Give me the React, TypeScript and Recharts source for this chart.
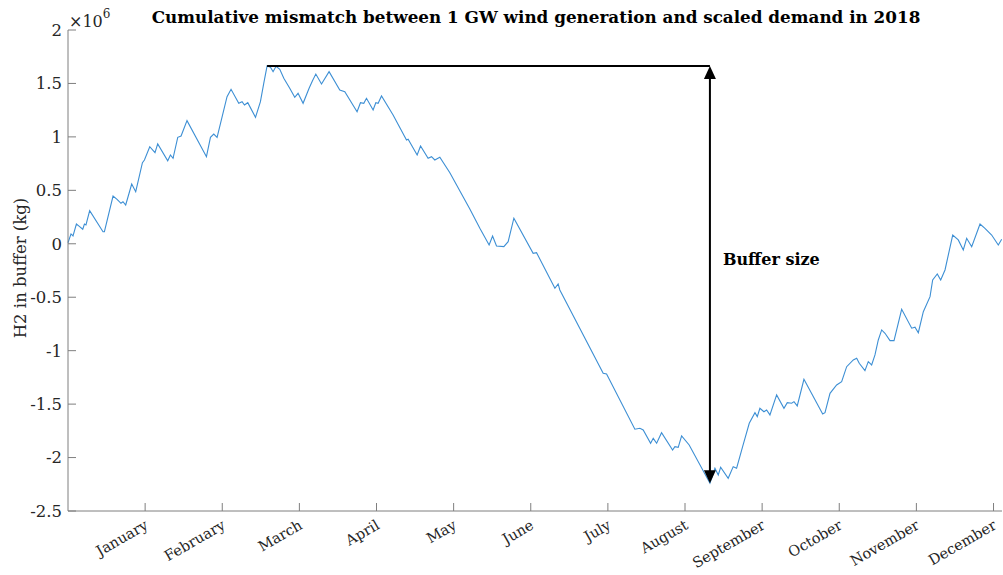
import { LineChart, Line, XAxis, YAxis, ReferenceLine } from 'recharts';

// month axis: tick k sits at the end of month k
const MONTHS = [
  'January', 'February', 'March', 'April', 'May', 'June',
  'July', 'August', 'September', 'October', 'November', 'December',
];
const monthTicks = [1, 2, 3, 4, 5, 6, 7, 8, 9, 10, 11, 12];
const yTicks = [-2.5, -2, -1.5, -1, -0.5, 0, 0.5, 1, 1.5, 2];

// time of year, in months
const monthPos = [
  0, 0.039, 0.065, 0.109, 0.139, 0.191, 0.213, 0.233, 0.281, 0.454,
  0.472, 0.584, 0.636, 0.687, 0.713, 0.748, 0.826, 0.878, 0.965, 0.991,
  1.06, 1.128, 1.163, 1.293, 1.328, 1.362, 1.423, 1.466, 1.543, 1.795,
  1.847, 1.89, 1.933, 2.062, 2.114, 2.214, 2.257, 2.288, 2.331, 2.431,
  2.495, 2.538, 2.581, 2.625, 2.659, 2.698, 2.746, 2.798, 2.875, 2.94,
  2.983, 3.048, 3.126, 3.17, 3.213, 3.287, 3.385, 3.524, 3.589, 3.748,
  3.792, 3.835, 3.87, 3.956, 3.991, 4.021, 4.065, 4.215, 4.389, 4.41,
  4.527, 4.571, 4.669, 4.713, 4.756, 4.821, 4.951, 5.21, 5.34, 5.46,
  5.505, 5.556, 5.651, 5.707, 5.781, 6.031, 6.075, 6.313, 6.355, 6.377,
  6.939, 6.983, 7.35, 7.415, 7.458, 7.554, 7.588, 7.632, 7.696, 7.839,
  7.869, 7.912, 7.956, 8.054, 8.323, 8.388, 8.431, 8.462, 8.56, 8.625,
  8.669, 8.747, 8.833, 8.907, 8.937, 8.971, 9.023, 9.058, 9.101, 9.188,
  9.283, 9.326, 9.383, 9.413, 9.455, 9.542, 9.785, 9.815, 9.88, 9.966,
  10.031, 10.096, 10.182, 10.226, 10.259, 10.333, 10.376, 10.42, 10.463, 10.506,
  10.55, 10.593, 10.658, 10.71, 10.809, 10.939, 10.982, 11.025, 11.09, 11.177,
  11.211, 11.271, 11.315, 11.371, 11.471, 11.543, 11.608, 11.652, 11.717, 11.825,
  11.889, 11.976, 12.062, 12.106,
];

// cumulative H2 in buffer, in 10^6 kg
const bufferMkg = [
  0.01, 0.092, 0.073, 0.185, 0.167, 0.136, 0.185, 0.176, 0.31, 0.113,
  0.113, 0.447, 0.416, 0.379, 0.394, 0.363, 0.559, 0.487, 0.759, 0.784,
  0.908, 0.852, 0.934, 0.777, 0.831, 0.8, 0.996, 1.008, 1.152, 0.815,
  0.996, 1.027, 0.996, 1.376, 1.445, 1.314, 1.329, 1.298, 1.32, 1.183,
  1.329, 1.501, 1.663, 1.651, 1.61, 1.66, 1.632, 1.548, 1.455, 1.37,
  1.408, 1.314, 1.455, 1.526, 1.588, 1.495, 1.61, 1.439, 1.423, 1.236,
  1.32, 1.314, 1.361, 1.252, 1.32, 1.314, 1.383, 1.205, 0.971, 0.978,
  0.831, 0.915, 0.8, 0.815, 0.784, 0.809, 0.665, 0.326, 0.145, -0.011,
  0.073, -0.021, -0.027, 0.02, 0.239, -0.089, -0.083, -0.416, -0.376, -0.432,
  -1.211, -1.218, -1.735, -1.726, -1.742, -1.866, -1.82, -1.866, -1.767, -1.929,
  -1.898, -1.904, -1.798, -1.882, -2.24, -2.1, -2.163, -2.091, -2.194, -2.085,
  -2.1, -1.898, -1.679, -1.58, -1.617, -1.539, -1.571, -1.555, -1.601, -1.414,
  -1.539, -1.486, -1.492, -1.477, -1.517, -1.268, -1.592, -1.58, -1.399, -1.321,
  -1.29, -1.15, -1.087, -1.071, -1.118, -1.187, -1.103, -1.134, -1.04, -0.9,
  -0.806, -0.837, -0.906, -0.906, -0.613, -0.79, -0.781, -0.832, -0.635, -0.495,
  -0.339, -0.283, -0.339, -0.245, 0.082, 0.036, -0.058, 0.051, -0.027, 0.185,
  0.145, 0.082, -0.011, 0.042,
];

const data = monthPos.map((t, i) => ({ t, h2: bufferMkg[i] }));

// peak and trough of the cumulative mismatch give the buffer size
const peakIdx = bufferMkg.indexOf(Math.max(...bufferMkg));
const troughIdx = bufferMkg.indexOf(Math.min(...bufferMkg));
const peakT = monthPos[peakIdx];
const peakV = bufferMkg[peakIdx];
const troughT = monthPos[troughIdx];
const troughV = bufferMkg[troughIdx];

const SERIF = '"DejaVu Serif", serif';
const TEXT = '#262626';
const AXIS = '#7f7f7f';
const X_MAX = 12.11;

function MonthTick({ x, y, payload }: any) {
  const tx = x + 4;
  return (
    <text
      x={tx}
      y={y}
      transform={`rotate(-30, ${tx}, ${y})`}
      textAnchor="end"
      fontFamily={SERIF}
      fontSize={14.5}
      fill={TEXT}
    >
      {MONTHS[payload.value - 1]}
    </text>
  );
}

function BufferArrow({ x1, y1, y2 }: any) {
  const top = Math.min(y1, y2);
  const bottom = Math.max(y1, y2);
  return (
    <g>
      <line x1={x1} y1={top + 10} x2={x1} y2={bottom - 10} stroke="#000" strokeWidth={2} />
      <polygon points={`${x1},${top} ${x1 - 6},${top + 13} ${x1 + 6},${top + 13}`} fill="#000" />
      <polygon points={`${x1},${bottom} ${x1 - 6},${bottom - 13} ${x1 + 6},${bottom - 13}`} fill="#000" />
      <text
        x={x1 + 13}
        y={(top + bottom) / 2 - 10}
        fontFamily={SERIF}
        fontWeight="bold"
        fontSize={16}
        fill="#000"
      >
        Buffer size
      </text>
    </g>
  );
}

export default function App() {
  return (
    <div style={{ position: 'relative', width: 1003, height: 575, background: '#fff' }}>
      <style>{'body { margin: 0; }'}</style>
      <LineChart
        width={1003}
        height={575}
        data={data}
        margin={{ top: 30, right: 1, bottom: 0, left: 0 }}
      >
        <XAxis
          dataKey="t"
          type="number"
          domain={[0, X_MAX]}
          ticks={monthTicks}
          height={64}
          stroke={AXIS}
          tickSize={-8}
          tickMargin={25}
          tick={<MonthTick />}
          interval={0}
        />
        <XAxis
          xAxisId="top"
          orientation="top"
          dataKey="t"
          type="number"
          domain={[0, X_MAX]}
          ticks={monthTicks}
          height={0}
          stroke={AXIS}
          tickSize={-8}
          tick={false}
        />
        <YAxis
          type="number"
          domain={[-2.5, 2]}
          ticks={yTicks}
          width={68}
          stroke={AXIS}
          tickSize={-8}
          tickMargin={14}
          interval={0}
          tick={{ fill: TEXT, fontSize: 16.5, fontFamily: SERIF }}
        />
        <YAxis
          yAxisId="right"
          orientation="right"
          type="number"
          domain={[-2.5, 2]}
          ticks={yTicks}
          width={0}
          stroke={AXIS}
          tickSize={-8}
          tick={false}
        />
        <Line
          type="linear"
          dataKey="h2"
          stroke="#3d8fd4"
          strokeWidth={1.1}
          dot={false}
          isAnimationActive={false}
        />
        <ReferenceLine
          segment={[
            { x: peakT, y: peakV },
            { x: troughT, y: peakV },
          ]}
          stroke="#000"
          strokeWidth={2}
        />
        <ReferenceLine
          segment={[
            { x: troughT, y: peakV },
            { x: troughT, y: troughV },
          ]}
          shape={<BufferArrow />}
        />
      </LineChart>
      <svg
        width={1003}
        height={575}
        style={{ position: 'absolute', left: 0, top: 0, pointerEvents: 'none' }}
      >
        <text
          x={536}
          y={23}
          textAnchor="middle"
          fontFamily={SERIF}
          fontWeight="bold"
          fontSize={16.8}
          fill="#000"
        >
          Cumulative mismatch between 1 GW wind generation and scaled demand in 2018
        </text>
        <text x={69} y={27} fontFamily={SERIF} fontSize={16} fill={TEXT}>
          ×10
          <tspan dy={-9} fontSize={12}>6</tspan>
        </text>
        <text
          x={26}
          y={268}
          transform="rotate(-90, 26, 268)"
          textAnchor="middle"
          fontFamily={SERIF}
          fontSize={16.5}
          fill={TEXT}
        >
          H2 in buffer (kg)
        </text>
      </svg>
    </div>
  );
}
